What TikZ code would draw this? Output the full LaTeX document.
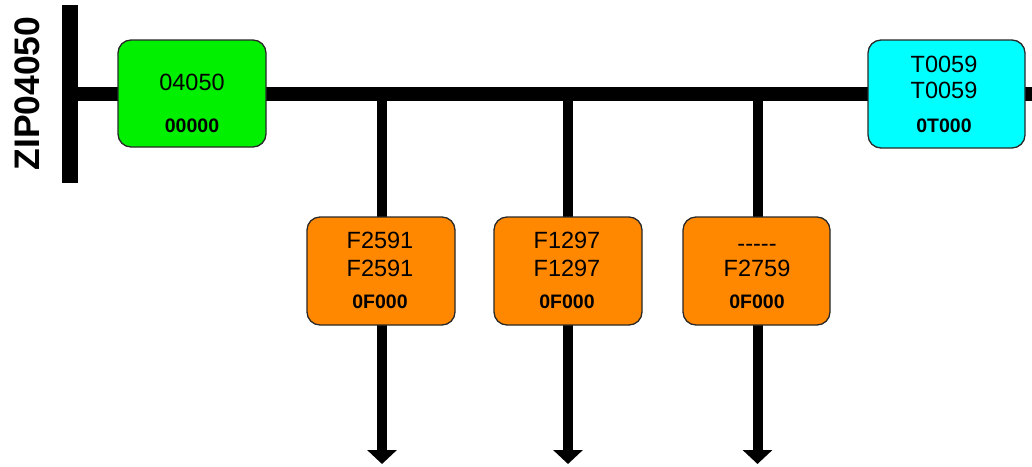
\documentclass[tikz,border=0pt]{standalone}
\usepackage{fontspec}
\setmainfont{Liberation Sans}
\usetikzlibrary{arrows.meta}
\definecolor{boxgreen}{RGB}{0,240,0}
\definecolor{boxcyan}{RGB}{0,255,255}
\definecolor{boxorange}{RGB}{255,136,0}
\definecolor{edge}{RGB}{40,40,40}
\tikzset{
  dev/.style={draw=edge, line width=1.3pt, rounded corners=13pt, inner sep=0pt, outer sep=0pt, rectangle},
  big/.style={anchor=base, inner sep=0pt, font=\fontsize{23.5}{27}\selectfont},
  small/.style={anchor=base, inner sep=0pt, font=\fontsize{19.5}{23}\selectfont\bfseries},
  busline/.style={line width=14pt},
  bar/.style={line width=16pt},
  drop/.style={line width=10pt, -{Triangle[width=29pt,length=14pt]}},
}
\begin{document}
\begin{tikzpicture}[x=1pt, y=-1pt]
\useasboundingbox (0,0) rectangle (1032,466);
% coordinates
\coordinate (bartop) at (70,5);
\coordinate (barbot) at (70,183);
\coordinate (busL) at (70,94);
\coordinate (busR) at (1032,94);
\coordinate (d1s) at (382,94);
\coordinate (d1e) at (382,464);
\coordinate (d2s) at (568,94);
\coordinate (d2e) at (568,464);
\coordinate (d3s) at (757.5,94);
\coordinate (d3e) at (757.5,464);
% lines
\draw[busline] (busL) -- (busR);
\draw[bar] (bartop) -- (barbot);
\draw[drop] (d1s) -- (d1e);
\draw[drop] (d2s) -- (d2e);
\draw[drop] (d3s) -- (d3e);
% label
\node[rotate=90, inner sep=0pt, font=\fontsize{35.5}{40}\selectfont\bfseries] (zip) at (27.5,93.5) {ZIP04050};
% boxes
\node[dev, fill=boxgreen, minimum width=148pt, minimum height=107pt] (gbox) at (192,93.5) {};
\node[dev, fill=boxcyan, minimum width=157pt, minimum height=108pt] (cbox) at (946.5,94) {};
\node[dev, fill=boxorange, minimum width=148pt, minimum height=108pt] (obox1) at (381,271) {};
\node[dev, fill=boxorange, minimum width=148pt, minimum height=108pt] (obox2) at (568,271) {};
\node[dev, fill=boxorange, minimum width=147pt, minimum height=108pt] (obox3) at (756.5,271) {};
% texts
\node[big] (g1) at (192,90) {04050};
\node[small] (g2) at (192,132) {00000};
\node[big] (c1) at (944,72) {T0059};
\node[big] (c2) at (944,98) {T0059};
\node[small] (c3) at (944,132) {0T000};
\node[big] (o11) at (380,248) {F2591};
\node[big] (o12) at (380,276) {F2591};
\node[small] (o13) at (380,308) {0F000};
\node[big] (o21) at (567,248) {F1297};
\node[big] (o22) at (567,276) {F1297};
\node[small] (o23) at (567,308) {0F000};
\node[big] (o31) at (757,251) {-{}-{}-{}-{}-};
\node[big] (o32) at (757,276) {F2759};
\node[small] (o33) at (757,308) {0F000};
\end{tikzpicture}
\end{document}
